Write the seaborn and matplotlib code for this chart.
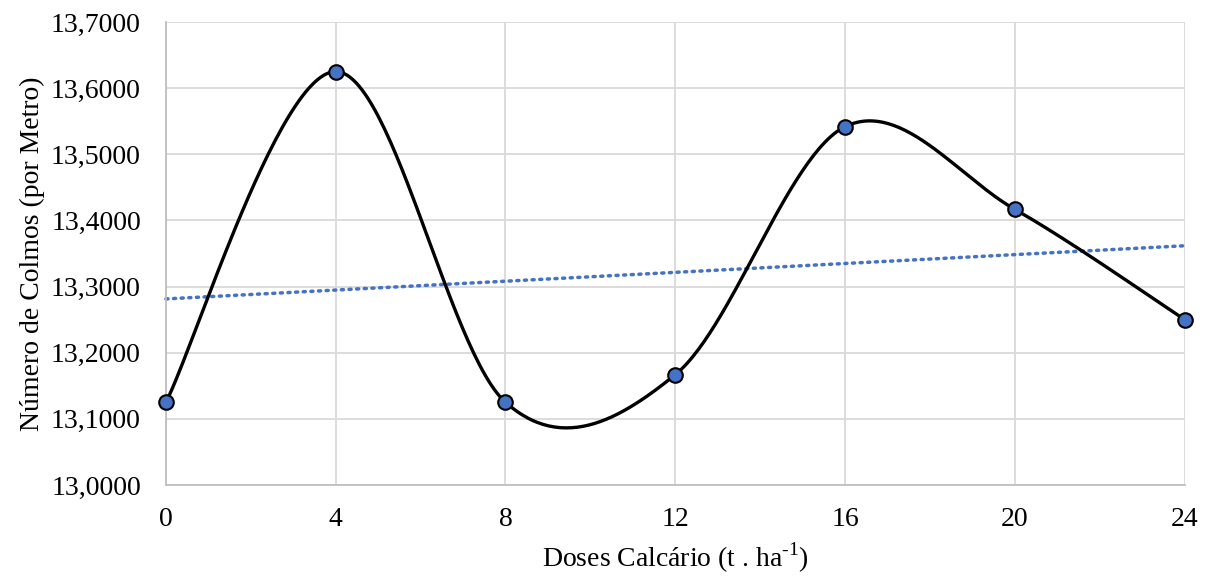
import numpy as np
import pandas as pd
import matplotlib
matplotlib.use("Agg")
import matplotlib.pyplot as plt
from matplotlib.ticker import FuncFormatter
import seaborn as sns

doses = [0, 4, 8, 12, 16, 20, 24]
colmos = [13.125, 13.625, 13.125, 13.1667, 13.5417, 13.4167, 13.25]
x_ticks = [0, 4, 8, 12, 16, 20, 24]
y_ticks = [13.0, 13.1, 13.2, 13.3, 13.4, 13.5, 13.6, 13.7]

sns.set_theme(style="whitegrid")
plt.rcParams["font.family"] = ["Liberation Serif", "DejaVu Serif"]
plt.rcParams["mathtext.fontset"] = "custom"
plt.rcParams["mathtext.rm"] = "Liberation Serif"


def excel_smooth(xs, ys, n=60):
    # bezier smoothing like Excel's "smoothed line"
    p = np.column_stack([xs, ys]).astype(float)
    out = []
    for i in range(len(p) - 1):
        p0 = p[i - 1] if i > 0 else p[i]
        p1, p2 = p[i], p[i + 1]
        p3 = p[i + 2] if i + 2 < len(p) else p[i + 1]
        c1 = p1 + (p2 - p0) / 6
        c2 = p2 - (p3 - p1) / 6
        t = np.linspace(0, 1, n)[:, None]
        seg = ((1 - t) ** 3 * p1 + 3 * (1 - t) ** 2 * t * c1
               + 3 * (1 - t) * t ** 2 * c2 + t ** 3 * p2)
        out.append(seg if i == 0 else seg[1:])
    return np.vstack(out)


df = pd.DataFrame({"dose": doses, "colmos": colmos})
curve = excel_smooth(doses, colmos)
curve_df = pd.DataFrame({"x": curve[:, 0], "y": curve[:, 1]})

fig, ax = plt.subplots(figsize=(12.2, 5.78), dpi=100)
fig.subplots_adjust(left=0.136, right=0.971, top=0.962, bottom=0.161)

sns.regplot(data=df, x="dose", y="colmos", ci=None, scatter=False, truncate=True,
            line_kws=dict(color="#4472C4", lw=2.5, ls=(0, (0.6, 1.6)),
                          dash_capstyle="round"), ax=ax)
sns.lineplot(data=curve_df, x="x", y="y", sort=False, color="black", lw=2.4,
             ax=ax, zorder=3)
sns.scatterplot(data=df, x="dose", y="colmos", s=110, color="#4472C4",
                edgecolor="black", linewidth=1.5, ax=ax, zorder=4)

ax.set_xlim(0, 24)
ax.set_ylim(13.0, 13.7)
ax.set_xticks(x_ticks)
ax.set_yticks(y_ticks)
ax.yaxis.set_major_formatter(FuncFormatter(lambda v, _: f"{v:.4f}".replace(".", ",")))
ax.tick_params(labelsize=20, colors="black", length=0)
ax.tick_params(axis="y", pad=18)
ax.tick_params(axis="x", pad=16)
ax.grid(True, color="#d9d9d9", lw=1.3)
for side in ["top", "right"]:
    ax.spines[side].set_visible(False)
for side in ["left", "bottom"]:
    ax.spines[side].set_color("#bfbfbf")
    ax.spines[side].set_linewidth(1.3)
for art in ax.lines + ax.collections:
    art.set_clip_on(False)

ax.set_xlabel(r"Doses Calcário (t . ha$^{\text{-1}}$)", fontsize=20,
              color="black", labelpad=6)
ax.set_ylabel("Número de Colmos (por Metro)", fontsize=20, color="black", labelpad=4)

fig.savefig("out.png", dpi=100, facecolor="white")
